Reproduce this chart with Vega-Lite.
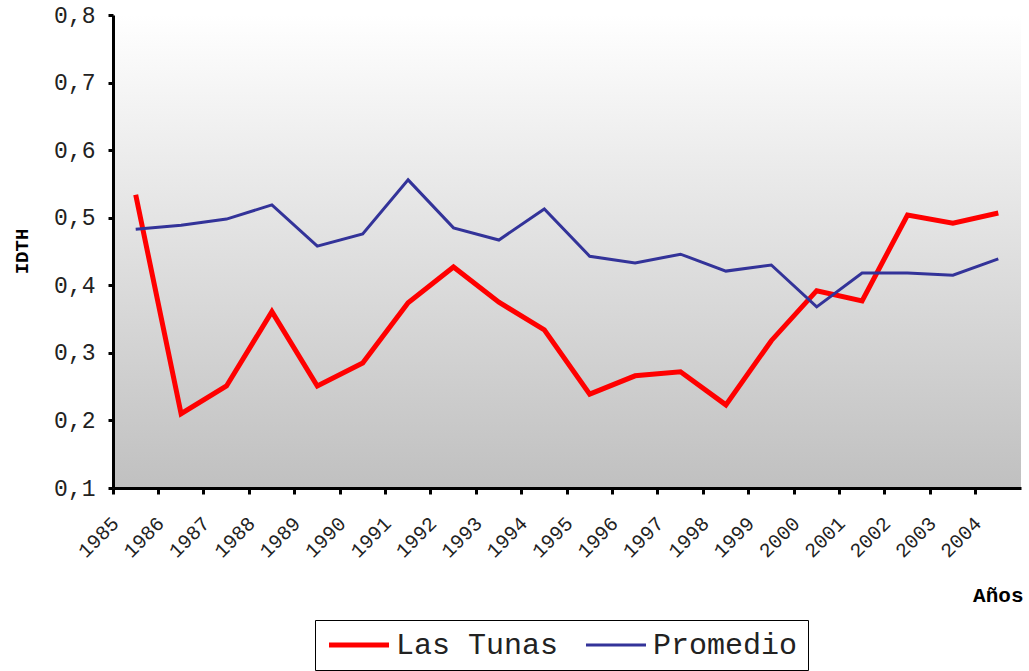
{
  "$schema": "https://vega.github.io/schema/vega-lite/v6.json",
  "width": 908,
  "height": 473,
  "autosize": {"type": "none"},
  "padding": {"left": 113, "top": 15, "right": 8, "bottom": 183},
  "background": "white",
  "config": {
    "view": {
      "stroke": null,
      "fill": {"gradient": "linear", "x1": 0, "y1": 0, "x2": 0, "y2": 1, "stops": [{"offset": 0, "color": "#ffffff"}, {"offset": 1, "color": "#c0c0c0"}]}
    },
    "font": "Liberation Mono"
  },
  "data": {
    "values": [
      {"anio": "1985", "serie": "Las Tunas", "valor": 0.534},
      {"anio": "1986", "serie": "Las Tunas", "valor": 0.210},
      {"anio": "1987", "serie": "Las Tunas", "valor": 0.251},
      {"anio": "1988", "serie": "Las Tunas", "valor": 0.361},
      {"anio": "1989", "serie": "Las Tunas", "valor": 0.251},
      {"anio": "1990", "serie": "Las Tunas", "valor": 0.285},
      {"anio": "1991", "serie": "Las Tunas", "valor": 0.374},
      {"anio": "1992", "serie": "Las Tunas", "valor": 0.427},
      {"anio": "1993", "serie": "Las Tunas", "valor": 0.375},
      {"anio": "1994", "serie": "Las Tunas", "valor": 0.334},
      {"anio": "1995", "serie": "Las Tunas", "valor": 0.239},
      {"anio": "1996", "serie": "Las Tunas", "valor": 0.266},
      {"anio": "1997", "serie": "Las Tunas", "valor": 0.272},
      {"anio": "1998", "serie": "Las Tunas", "valor": 0.223},
      {"anio": "1999", "serie": "Las Tunas", "valor": 0.318},
      {"anio": "2000", "serie": "Las Tunas", "valor": 0.392},
      {"anio": "2001", "serie": "Las Tunas", "valor": 0.377},
      {"anio": "2002", "serie": "Las Tunas", "valor": 0.504},
      {"anio": "2003", "serie": "Las Tunas", "valor": 0.492},
      {"anio": "2004", "serie": "Las Tunas", "valor": 0.507},
      {"anio": "1985", "serie": "Promedio", "valor": 0.483},
      {"anio": "1986", "serie": "Promedio", "valor": 0.489},
      {"anio": "1987", "serie": "Promedio", "valor": 0.498},
      {"anio": "1988", "serie": "Promedio", "valor": 0.519},
      {"anio": "1989", "serie": "Promedio", "valor": 0.458},
      {"anio": "1990", "serie": "Promedio", "valor": 0.476},
      {"anio": "1991", "serie": "Promedio", "valor": 0.556},
      {"anio": "1992", "serie": "Promedio", "valor": 0.485},
      {"anio": "1993", "serie": "Promedio", "valor": 0.467},
      {"anio": "1994", "serie": "Promedio", "valor": 0.513},
      {"anio": "1995", "serie": "Promedio", "valor": 0.443},
      {"anio": "1996", "serie": "Promedio", "valor": 0.433},
      {"anio": "1997", "serie": "Promedio", "valor": 0.446},
      {"anio": "1998", "serie": "Promedio", "valor": 0.421},
      {"anio": "1999", "serie": "Promedio", "valor": 0.430},
      {"anio": "2000", "serie": "Promedio", "valor": 0.368},
      {"anio": "2001", "serie": "Promedio", "valor": 0.418},
      {"anio": "2002", "serie": "Promedio", "valor": 0.418},
      {"anio": "2003", "serie": "Promedio", "valor": 0.415},
      {"anio": "2004", "serie": "Promedio", "valor": 0.439}
    ]
  },
  "mark": {"type": "line", "strokeJoin": "miter"},
  "encoding": {
    "x": {
      "field": "anio",
      "type": "ordinal",
      "scale": {"type": "band", "paddingInner": 0, "paddingOuter": 0},
      "axis": {
        "title": "Años",
        "titleFont": "Liberation Mono",
        "titleFontWeight": "bold",
        "titleFontSize": 21,
        "titleColor": "black",
        "titleAnchor": "end",
        "titleAlign": "right",
        "titleX": 910,
        "titleY": 107,
        "titleBaseline": "middle",
        "bandPosition": 0,
        "labelOffset": -20,
        "labelAngle": -45,
        "labelAlign": "right",
        "labelBaseline": "middle",
        "labelPadding": 26,
        "labelFont": "Liberation Mono",
        "labelFontSize": 20,
        "labelColor": "#222222",
        "domainColor": "black",
        "domainWidth": 3,
        "tickColor": "black",
        "tickWidth": 3,
        "tickSize": 6,
        "grid": false
      }
    },
    "y": {
      "field": "valor",
      "type": "quantitative",
      "scale": {"domain": [0.1, 0.8], "nice": false, "zero": false},
      "axis": {
        "title": "IDTH",
        "titleFont": "Liberation Mono",
        "titleFontWeight": "bold",
        "titleFontSize": 19,
        "titleColor": "black",
        "titleX": -92,
        "titleY": 236,
        "titleAngle": -90,
        "titleAlign": "center",
        "titleBaseline": "middle",
        "values": [0.1, 0.2, 0.3, 0.4, 0.5, 0.6, 0.7, 0.8],
        "labelExpr": "replace(format(datum.value, '.1f'), '.', ',')",
        "labelFont": "Liberation Mono",
        "labelFontSize": 23,
        "labelColor": "#222222",
        "labelPadding": 13,
        "domainColor": "black",
        "domainWidth": 3,
        "tickColor": "black",
        "tickWidth": 3,
        "tickSize": 5,
        "grid": false
      }
    },
    "color": {
      "field": "serie",
      "type": "nominal",
      "scale": {"domain": ["Las Tunas", "Promedio"], "range": ["#ff0000", "#333399"]},
      "legend": {
        "title": null,
        "orient": "none",
        "direction": "horizontal",
        "legendX": 202,
        "legendY": 605,
        "strokeColor": "black",
        "fillColor": "white",
        "padding": 10,
        "symbolType": "M-3,0H3",
        "symbolSize": 400,
        "labelFont": "Liberation Mono",
        "labelFontSize": 30,
        "labelLimit": 400,
        "labelColor": "#222222",
        "columnPadding": 21,
        "labelOffset": 22,
        "symbolOffset": 19
      }
    },
    "strokeWidth": {
      "field": "serie",
      "type": "nominal",
      "scale": {"domain": ["Las Tunas", "Promedio"], "range": [5, 3]},
      "legend": null
    }
  }
}
